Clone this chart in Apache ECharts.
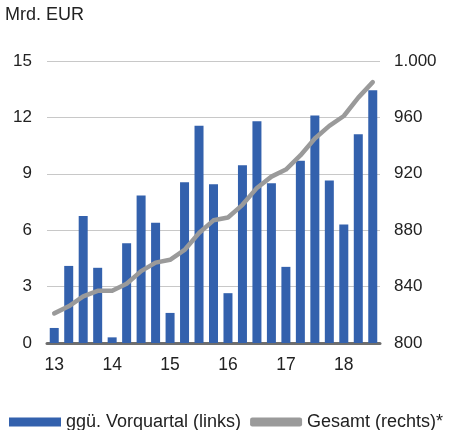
<!DOCTYPE html>
<html><head><meta charset="utf-8">
<script src="https://cdn.jsdelivr.net/npm/echarts@6/dist/echarts.min.js"></script>
<style>html,body{margin:0;padding:0;background:#fff}#c{width:449px;height:430px}</style>
</head><body><div id="c"></div>
<script>
const categories = ['13Q1','13Q2','13Q3','13Q4','14Q1','14Q2','14Q3','14Q4','15Q1','15Q2','15Q3','15Q4','16Q1','16Q2','16Q3','16Q4','17Q1','17Q2','17Q3','17Q4','18Q1','18Q2','18Q3'];
const yearLabels = {'13Q1':'13','14Q1':'14','15Q1':'15','16Q1':'16','17Q1':'17','18Q1':'18'};
const quarterChange = [0.8,4.1,6.75,4.0,0.3,5.3,7.85,6.4,1.6,8.55,11.55,8.45,2.65,9.45,11.8,8.5,4.05,9.7,12.1,8.65,6.3,11.1,13.45];
const total = [821,826,833,837,837,842,851,857,859,866,878,887,889,898,910,918,923,933,945,954,961,974,985];
const leftTicks = [0,3,6,9,12,15];
const rightTicks = [800,840,880,920,960,1000];

const chart = echarts.init(document.getElementById('c'), null, {renderer:'canvas'});
const font = 'Liberation Sans, Arial, sans-serif';
chart.setOption({
  animation:false,
  textStyle:{fontFamily:font},
  grid:{left:47,right:69,top:61,bottom:87,containLabel:false},
  graphic:[{type:'text',left:5,top:6,style:{text:'Mrd. EUR',fontSize:18,fill:'#222',fontFamily:font}}],
  legend:{
    left:4,top:408,itemWidth:52,itemHeight:9,itemGap:9,
    textStyle:{fontSize:18,color:'#222',fontFamily:font},
    data:[{name:'ggü. Vorquartal (links)',icon:'rect'},
          {name:'Gesamt (rechts)*',icon:'roundRect',itemStyle:{color:'#9a9a9a'}}]
  },
  xAxis:{
    type:'category',data:categories,
    axisLine:{lineStyle:{color:'#6e6e6e',width:3}},
    axisTick:{show:false},
    axisLabel:{interval:0,fontSize:17.5,color:'#222',margin:13,formatter:v=>yearLabels[v]||''}
  },
  yAxis:[
    {type:'value',min:leftTicks[0],max:leftTicks[leftTicks.length-1],interval:3,
     axisLine:{show:false},axisTick:{show:false},
     splitLine:{lineStyle:{color:'#c8c8c8',width:1}},
     axisLabel:{fontSize:17,color:'#222',margin:15}},
    {type:'value',min:rightTicks[0],max:rightTicks[rightTicks.length-1],interval:40,
     axisLine:{show:false},axisTick:{show:false},splitLine:{show:false},
     axisLabel:{fontSize:17,color:'#222',margin:14,formatter:v=>v>=1000?'1.000':String(v)}}
  ],
  series:[
    {name:'ggü. Vorquartal (links)',type:'bar',data:quarterChange,barWidth:9,
     itemStyle:{color:'#3361ad'},yAxisIndex:0},
    {name:'Gesamt (rechts)*',type:'line',data:total,yAxisIndex:1,symbol:'none',showSymbol:false,
     lineStyle:{color:'#9a9a9a',width:4.5,cap:'round',join:'round'},itemStyle:{color:'#9a9a9a'}}
  ]
});
</script></body></html>
